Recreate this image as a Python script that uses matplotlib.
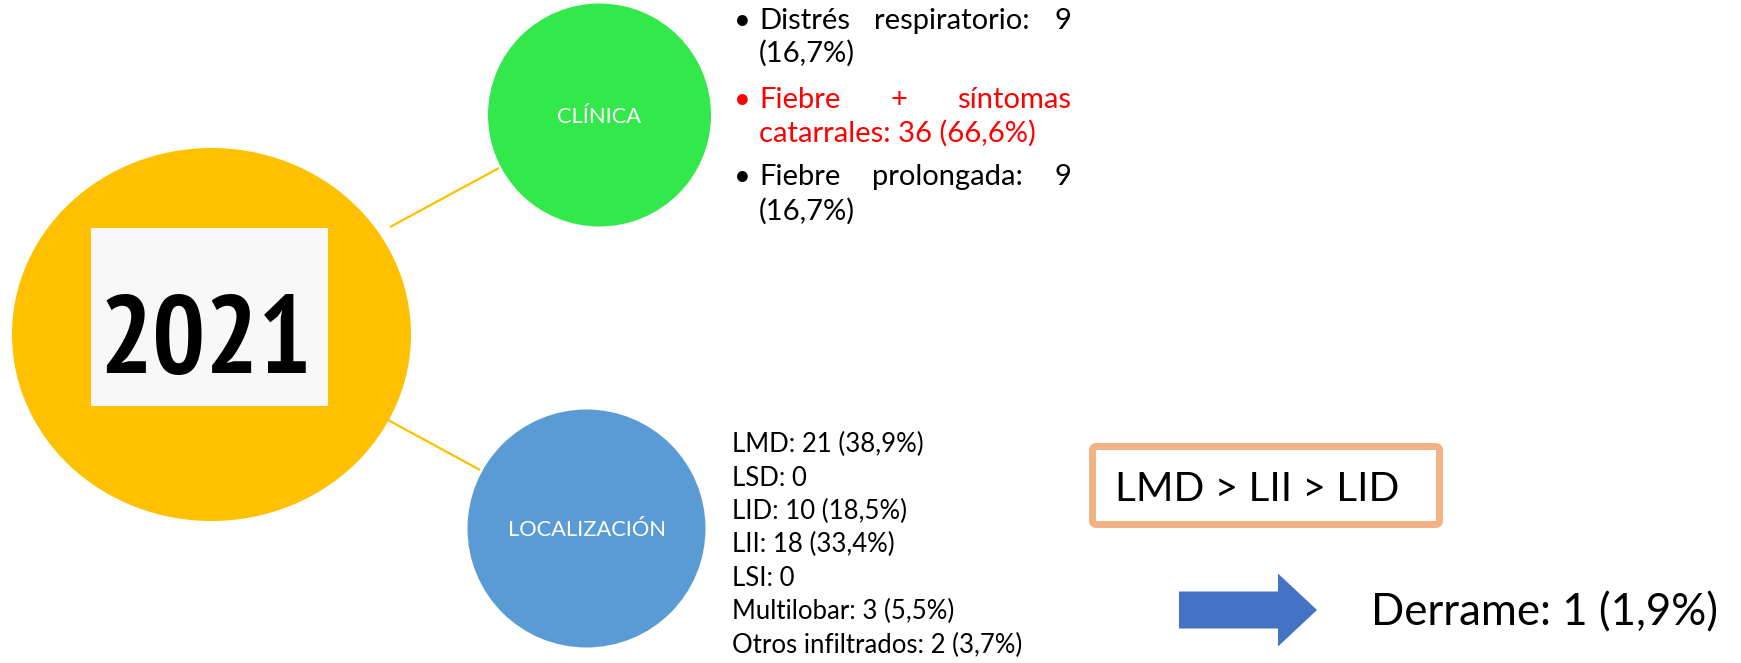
import matplotlib
matplotlib.use('Agg')
import matplotlib.pyplot as plt
from matplotlib import font_manager
from matplotlib.patches import Circle, Ellipse, Rectangle, FancyBboxPatch, FancyArrow

# --- content ---
year = '2021'
clinica_title = 'CLÍNICA'
localizacion_title = 'LOCALIZACIÓN'
clinica_items = [
    ['Distrés respiratorio: 9', '(16,7%)'],
    ['Fiebre + síntomas', 'catarrales: 36 (66,6%)'],
    ['Fiebre prolongada: 9', '(16,7%)'],
]
clinica_colors = ['black', '#FF0000', 'black']
localizacion_items = [
    'LMD: 21 (38,9%)',
    'LSD: 0',
    'LID: 10 (18,5%)',
    'LII: 18 (33,4%)',
    'LSI: 0',
    'Multilobar: 3 (5,5%)',
    'Otros infiltrados: 2 (3,7%)',
]
ranking = 'LMD > LII > LID'
derrame = 'Derrame: 1 (1,9%)'

YELLOW = '#FFC000'
GREEN = '#33E84B'
BLUE = '#5B9BD5'
ORANGE = '#F4B183'
ARROW_BLUE = '#4472C4'

W, H, DPI = 1741, 663, 100
plt.rcParams['font.family'] = ['Lato', 'DejaVu Sans']

fig = plt.figure(figsize=(W / DPI, H / DPI), dpi=DPI)
fig.patch.set_facecolor('white')
ax = fig.add_axes([0, 0, 1, 1])
ax.set_xlim(0, W)
ax.set_ylim(H, 0)
ax.axis('off')
renderer = fig.canvas.get_renderer()


def text_width(s, size, **kw):
    t = ax.text(0, 0, s, fontsize=size, **kw)
    w = t.get_window_extent(renderer).width
    t.remove()
    return w


def fit_size(s, target, **kw):
    return 20 * target / text_width(s, 20, **kw)


def year_font():
    entries = font_manager.fontManager.ttflist

    def is_bold(f):
        w = f.weight
        if isinstance(w, str):
            w = font_manager.weight_dict.get(w, 400)
        return w >= 600

    for key in ('Narrow', 'Condensed'):
        for f in entries:
            if key in f.name and is_bold(f):
                return font_manager.FontProperties(fname=f.fname)
    return font_manager.FontProperties(family='Roboto', weight='bold')


def justified(x0, x1, y, line, size, color):
    words = line.split()
    widths = [text_width(w, size) for w in words]
    gap = (x1 - x0 - sum(widths)) / (len(words) - 1)
    x = x0
    for w, wd in zip(words, widths):
        ax.text(x, y, w, fontsize=size, color=color, ha='left', va='baseline', zorder=5)
        x += wd + gap


# connectors
ax.plot([390, 499], [227, 168], color=YELLOW, lw=1.6, zorder=1, solid_capstyle='butt')
ax.plot([388, 480], [420, 470], color=YELLOW, lw=1.6, zorder=1, solid_capstyle='butt')

# big year circle
ax.add_patch(Ellipse((211.5, 334.5), 399, 373, facecolor=YELLOW, edgecolor='none', zorder=2))
ax.add_patch(Rectangle((91, 228), 237, 178, facecolor='#F8F8F8', edgecolor='none', zorder=3))
fp = year_font()
ys = fit_size(year, 212, fontproperties=fp)
ax.text(206, 373, year, fontproperties=fp, fontsize=ys, ha='center', va='baseline',
        color='black', zorder=4)

# category circles
ax.add_patch(Circle((599.5, 115), 111.5, facecolor=GREEN, edgecolor='none', zorder=2))
ax.add_patch(Circle((586.5, 528.5), 119, facecolor=BLUE, edgecolor='none', zorder=2))
ts = fit_size(localizacion_title, 158)
ax.text(599.5, 123, clinica_title, fontsize=ts, color='white', ha='center', va='baseline', zorder=4)
ax.text(586.5, 536, localizacion_title, fontsize=ts, color='white', ha='center', va='baseline', zorder=4)

# clinica bullets (justified)
bs = fit_size('catarrales: 36 (66,6%)', 276)
baselines = [[29, 62], [108, 142], [185, 220]]
for lines, col, ys_ in zip(clinica_items, clinica_colors, baselines):
    ax.text(742, ys_[0], '\u2022', fontsize=bs, color=col, ha='center', va='baseline', zorder=5)
    justified(759, 1071, ys_[0], lines[0], bs, col)
    ax.text(759, ys_[1], lines[1], fontsize=bs, color=col, ha='left', va='baseline', zorder=5)

# localizacion list
ls = fit_size(localizacion_items[-1], 290)
for i, item in enumerate(localizacion_items):
    ax.text(732, 452 + 33.5 * i, item, fontsize=ls, color='black', ha='left', va='baseline', zorder=5)

# ranking box
ax.add_patch(FancyBboxPatch((1092.5, 446.5), 347, 78,
                            boxstyle='round,pad=0,rounding_size=4',
                            facecolor='white', edgecolor=ORANGE, lw=5, zorder=3))
rs = fit_size(ranking, 283)
ax.text(1115, 501, ranking, fontsize=rs, color='black', ha='left', va='baseline', zorder=5)

# arrow + derrame
ax.add_patch(FancyArrow(1179, 610, 138, 0, width=37, head_width=73, head_length=39,
                        length_includes_head=True, facecolor=ARROW_BLUE, edgecolor='none', zorder=3))
ds = fit_size(derrame, 348)
ax.text(1371, 625, derrame, fontsize=ds, color='black', ha='left', va='baseline', zorder=5)

fig.savefig('out.png', dpi=DPI, facecolor='white')
